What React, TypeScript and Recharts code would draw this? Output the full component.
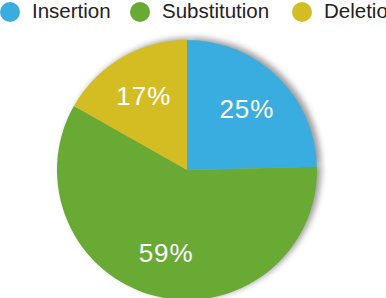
import React from "react";
import { PieChart, Pie, Cell, Legend } from "recharts";

const categories = ["Insertion", "Substitution", "Deletion"];
const values = [24.6, 58.6, 16.8];
const colors = ["#3AADE0", "#69AA34", "#D4BD22"];

const data = categories.map((name, i) => ({ name, value: values[i] }));

const RAD = Math.PI / 180;

const renderLabel = (props: any) => {
  const { cx, cy, midAngle, outerRadius, percent } = props;
  const r = outerRadius * 0.66;
  const x = cx + r * Math.cos(-midAngle * RAD);
  const y = cy + r * Math.sin(-midAngle * RAD);
  return (
    <text
      x={x}
      y={y}
      fill="#ffffff"
      textAnchor="middle"
      dominantBaseline="central"
      fontFamily="'Liberation Sans', Arial, sans-serif"
      fontSize={26}
      letterSpacing={1}
    >
      {`${Math.round(percent * 100)}%`}
    </text>
  );
};

const legendPositions = [0, 130, 292];

const renderLegend = () => (
  <div style={{ position: "relative", width: 386, height: 24 }}>
    {data.map((d, i) => (
      <div
        key={d.name}
        style={{
          position: "absolute",
          left: legendPositions[i],
          top: 0,
          display: "flex",
          alignItems: "center",
          whiteSpace: "nowrap",
        }}
      >
        <div
          style={{
            width: 20,
            height: 20,
            borderRadius: 10,
            background: colors[i],
            marginTop: 1,
          }}
        />
        <span
          style={{
            marginLeft: 12,
            fontFamily: "'Liberation Sans', Arial, sans-serif",
            fontSize: 20.5,
            color: "#222",
            lineHeight: "22px",
          }}
        >
          {d.name}
        </span>
      </div>
    ))}
  </div>
);

export default function App() {
  return (
    <div style={{ position: "absolute", left: 0, top: 0, width: 386, height: 298, overflow: "hidden", background: "#fff" }}>
      <PieChart width={386} height={298} margin={{ top: 0, right: 0, bottom: 0, left: 0 }}>
        <defs>
          <filter id="pieShadow" x="-20%" y="-20%" width="140%" height="140%">
            <feGaussianBlur stdDeviation="3" />
          </filter>
        </defs>
        <Legend
          verticalAlign="top"
          align="left"
          content={renderLegend}
          wrapperStyle={{ position: "absolute", top: 0, left: 0, width: 386 }}
        />
        <Pie
          data={data}
          dataKey="value"
          nameKey="name"
          cx={191}
          cy={144}
          outerRadius={130}
          startAngle={90}
          endAngle={-270}
          stroke="none"
          isAnimationActive={false}
          legendType="none"
        >
          {data.map((d) => (
            <Cell key={d.name} fill="#9a9a9a" filter="url(#pieShadow)" />
          ))}
        </Pie>
        <Pie
          data={data}
          dataKey="value"
          nameKey="name"
          cx={187}
          cy={146}
          outerRadius={130}
          startAngle={90}
          endAngle={-270}
          stroke="none"
          isAnimationActive={false}
          label={renderLabel}
          labelLine={false}
        >
          {data.map((d, i) => (
            <Cell key={d.name} fill={colors[i]} />
          ))}
        </Pie>
      </PieChart>
    </div>
  );
}
